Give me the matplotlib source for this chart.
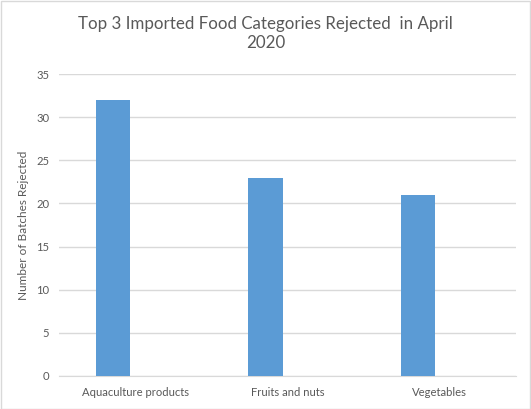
import numpy as np
import matplotlib.pyplot as plt
from matplotlib.patches import Rectangle

# Data
categories = ['Aquaculture products', 'Fruits and nuts', 'Vegetables']
batches_rejected = [32, 23, 21]
y_ticks = [0, 5, 10, 15, 20, 25, 30, 35]

text_color = '#595959'
plt.rcParams['font.family'] = ['Lato', 'DejaVu Sans']

fig = plt.figure(figsize=(5.31, 4.09), dpi=100)
ax = fig.add_axes([0.111, 0.081, 0.861, 0.738])

# bars sit a bit left of the category centre (Excel clustered layout)
x = np.arange(len(categories))
ax.bar(x - 0.145, batches_rejected, width=0.227, color='#5B9BD5', zorder=3)

ax.set_xlim(-0.5, len(categories) - 0.5)
ax.set_ylim(0, 35)
ax.set_yticks(y_ticks)
ax.set_xticks(x)
ax.set_xticklabels(categories)

ax.yaxis.grid(True, color='#D9D9D9', linewidth=1, zorder=0)
for side in ['top', 'right', 'left']:
    ax.spines[side].set_visible(False)
ax.spines['bottom'].set_color('#D9D9D9')
ax.tick_params(axis='both', length=0, colors=text_color, labelsize=8.1)
ax.tick_params(axis='y', pad=7)
ax.tick_params(axis='x', pad=8)

ax.set_ylabel('Number of Batches Rejected', color=text_color, fontsize=8.5, labelpad=5)
fig.text(0.5, 0.918, 'Top 3 Imported Food Categories Rejected  in April\n2020',
         ha='center', va='center', fontsize=12.2, color=text_color, linespacing=1.25)

# light border around the chart
fig.patches.append(Rectangle((0.001, 0.001), 0.997, 0.997, transform=fig.transFigure,
                             fill=False, edgecolor='#D9D9D9', linewidth=1))

plt.savefig('out.png', dpi=100)
